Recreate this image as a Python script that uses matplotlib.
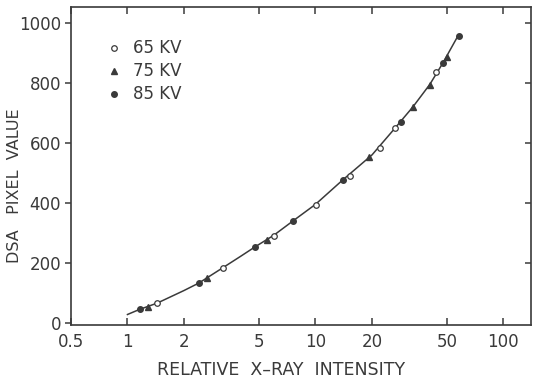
import numpy as np
import matplotlib
matplotlib.use('Agg')
import matplotlib.pyplot as plt

kv65_x = [1.44, 3.22, 6.0, 10.1, 15.3, 22.1, 26.4, 43.6]
kv65_y = [67, 183, 290, 393, 490, 583, 650, 837]
kv75_x = [1.28, 2.65, 5.51, 19.3, 33.0, 40.6, 49.9]
kv75_y = [53, 150, 277, 553, 720, 793, 887]
kv85_x = [1.16, 2.40, 4.76, 7.6, 14.0, 28.5, 47.5, 57.7]
kv85_y = [47, 133, 253, 340, 477, 670, 867, 957]

# fitted curve
curve_x = [1.0, 1.16, 1.44, 2.0, 2.4, 3.2, 4.0, 4.76, 6.0, 7.6, 10.0, 14.0,
           20.0, 26.4, 33.0, 40.6, 47.5, 57.7]
curve_y = [28, 45, 66, 108, 133, 183, 222, 253, 292, 340, 395, 477,
           560, 648, 720, 795, 865, 960]

xticks = [0.5, 1, 2, 5, 10, 20, 50, 100]
xticklabels = ['0.5', '1', '2', '5', '10', '20', '50', '100']
yticks = [0, 200, 400, 600, 800, 1000]

ink = '#3a3a3a'
plt.rc('font', family='DejaVu Sans')

fig = plt.figure(figsize=(5.33, 3.79), dpi=100)
ax = fig.add_axes([0.133, 0.1425, 0.863, 0.839])

ax.plot(curve_x, curve_y, color=ink, lw=1.1, zorder=2)
ax.plot(kv65_x, kv65_y, 'o', ms=4, mfc='white', mec=ink, mew=0.9, ls='none', label='65 KV', zorder=3)
ax.plot(kv75_x, kv75_y, '^', ms=4.5, mfc=ink, mec=ink, ls='none', label='75 KV', zorder=3)
ax.plot(kv85_x, kv85_y, 'o', ms=4, mfc=ink, mec=ink, ls='none', label='85 KV', zorder=3)

ax.set_xscale('log')
ax.set_xlim(0.5, 140)
ax.set_ylim(-7, 1053)
ax.set_xticks(xticks)
ax.set_xticklabels(xticklabels)
ax.xaxis.set_minor_locator(matplotlib.ticker.NullLocator())
ax.set_yticks(yticks)

for sp in ax.spines.values():
  sp.set_color(ink)
  sp.set_linewidth(1.2)

ax.tick_params(axis='x', which='both', direction='in', top=True, length=5,
               width=1.1, color=ink, labelsize=12, labelcolor=ink, pad=6)
ax.tick_params(axis='y', which='major', direction='out', length=4,
               width=1.1, color=ink, labelsize=12, labelcolor=ink, pad=3)
# right side ticks point inwards
sec = ax.secondary_yaxis('right')
sec.set_yticks(yticks[1:])
sec.tick_params(axis='y', direction='in', length=4, width=1.1, color=ink, labelright=False)
sec.spines['right'].set_visible(False)

leg = ax.legend(loc='upper left', bbox_to_anchor=(0.05, 0.94), frameon=False,
                fontsize=12, handletextpad=0.75, labelspacing=0.3,
                handlelength=0.8, borderpad=0.3)
for t in leg.get_texts():
  t.set_color(ink)

fig.text(0.527, 0.024, 'RELATIVE  X–RAY  INTENSITY', ha='center', va='center',
         fontsize=12.5, color=ink)
fig.text(0.028, 0.51, 'DSA   PIXEL  VALUE', ha='center', va='center',
         rotation=90, fontsize=11.5, color=ink)

plt.savefig('out.png', dpi=100)
